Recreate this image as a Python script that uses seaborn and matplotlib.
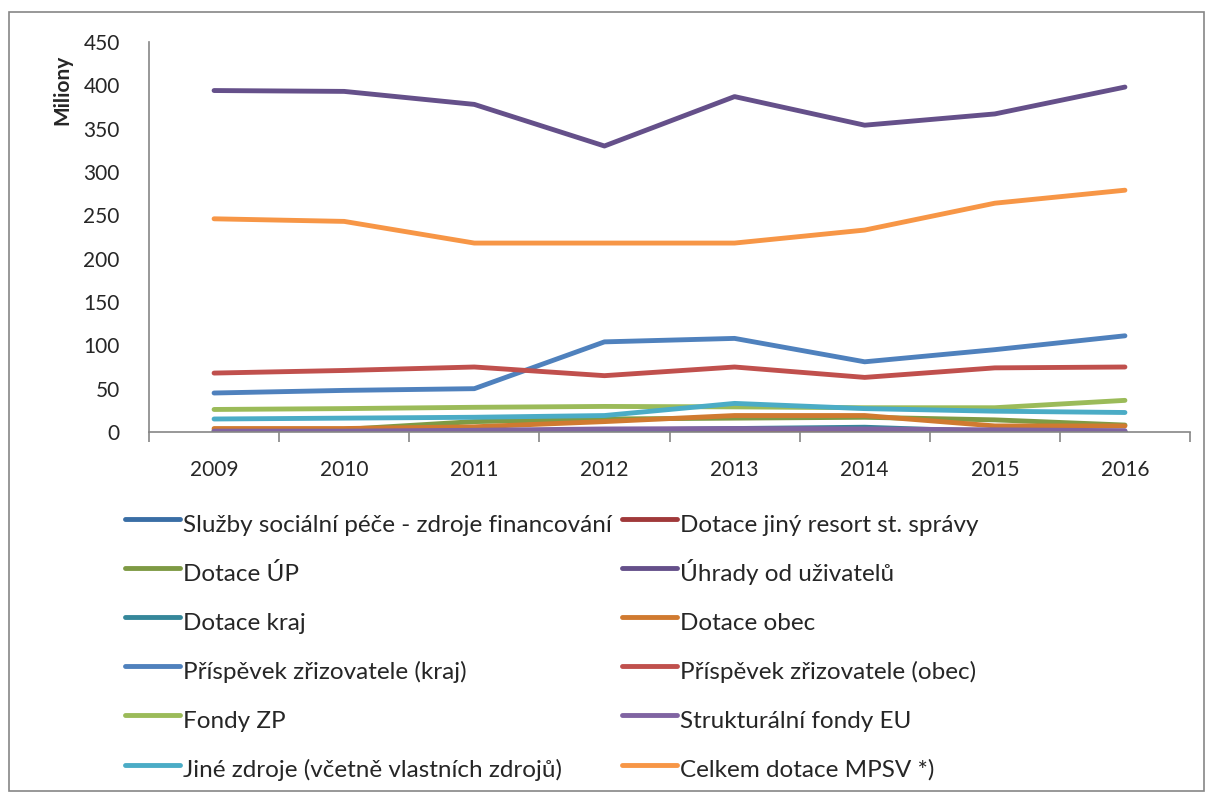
import matplotlib
matplotlib.use("Agg")
import matplotlib.pyplot as plt
from matplotlib.lines import Line2D
from matplotlib.patches import Rectangle
import seaborn as sns
import pandas as pd

years = ["2009", "2010", "2011", "2012", "2013", "2014", "2015", "2016"]

series_names = [
    "Služby sociální péče - zdroje financování",
    "Dotace jiný resort st. správy",
    "Dotace ÚP",
    "Úhrady od uživatelů",
    "Dotace kraj",
    "Dotace obec",
    "Příspěvek zřizovatele (kraj)",
    "Příspěvek zřizovatele (obec)",
    "Fondy ZP",
    "Strukturální fondy EU",
    "Jiné zdroje (včetně vlastních zdrojů)",
    "Celkem dotace MPSV *)",
]

sluzby = [0, 0, 0, 0, 0, 0, 0, 0]
dotace_jiny_resort = [0.5, 0.5, 0.5, 0.5, 0.5, 0.5, 0.5, 0.5]
dotace_up = [2, 3, 12, 15, 16, 17, 14, 8]
uhrady = [394, 393, 378, 330, 387, 354, 367, 398]
dotace_kraj = [0.5, 0.5, 1, 2, 4, 5.5, 0.5, 0.5]
dotace_obec = [4, 4, 6, 12, 19, 19, 7, 7]
prispevek_kraj = [45, 48, 50, 104, 108, 81, 95, 111]
prispevek_obec = [68, 71, 75, 65, 75, 63, 74, 75]
fondy_zp = [26, 27, 28.5, 29.5, 29, 28, 28, 36.5]
strukturalni = [1, 1, 2, 3.5, 4, 3.5, 2.5, 1.5]
jine_zdroje = [15, 16, 17, 19, 33, 27, 24, 22.5]
celkem_mpsv = [246, 243, 218, 218, 218, 233, 264, 279]

values = [sluzby, dotace_jiny_resort, dotace_up, uhrady, dotace_kraj, dotace_obec,
          prispevek_kraj, prispevek_obec, fondy_zp, strukturalni, jine_zdroje, celkem_mpsv]

colors = ["#3A6EA5", "#A0393A", "#7E9A44", "#65508A", "#35879A", "#D07A30",
          "#4F81BD", "#C0504D", "#9BBB59", "#8064A2", "#4BACC6", "#F79646"]

rows = []
for name, vals in zip(series_names, values):
    for y, v in zip(years, vals):
        rows.append({"Rok": y, "Hodnota": v, "Řada": name})
df = pd.DataFrame(rows)

sns.set_style("white")
plt.rcParams["font.family"] = ["Lato", "DejaVu Sans"]

W, H = 1209, 794
fig = plt.figure(figsize=(W / 100, H / 100), dpi=100)
ax = fig.add_axes([149 / W, 1 - 432 / H, (1190 - 149) / W, (432 - 42) / H])

palette = dict(zip(series_names, colors))
sns.lineplot(data=df, x="Rok", y="Hodnota", hue="Řada", hue_order=series_names,
             palette=palette, linewidth=3.5, legend=False, ax=ax, sort=False)
for line in ax.lines:
    line.set_solid_capstyle("round")
    line.set_solid_joinstyle("round")

ax.set_xlim(-0.5, 7.5)
ax.set_ylim(0, 450)
ax.set_yticks(range(0, 451, 50))
ax.set_xlabel("")
ax.set_ylabel("")
ax.set_xticks(range(8))
ax.set_xticklabels(years)
ax.set_xticks([i - 0.5 for i in range(9)], minor=True)
ax.tick_params(axis="x", which="major", length=0, pad=20, labelsize=15)
ax.tick_params(axis="x", which="minor", length=7, width=1.2, color="#868686", direction="out",
               bottom=True)
ax.tick_params(axis="y", which="major", length=7, width=1.2, color="#868686", direction="out",
               pad=14, labelsize=15)
for s in ["top", "right"]:
    ax.spines[s].set_visible(False)
for s in ["left", "bottom"]:
    ax.spines[s].set_color("#868686")
    ax.spines[s].set_linewidth(1.2)

fig.text(62 / W, 1 - 90 / H, "Miliony", rotation=90, ha="center", va="center",
         fontsize=15, fontweight="bold")

# legend: two columns, filled row by row (as in the reference)
col_x = [125, 622]
row_y0, row_dy = 519, 49.1
for i, (name, c) in enumerate(zip(series_names, colors)):
    col, row = i % 2, i // 2
    x0 = col_x[col]
    yl = row_y0 + row * row_dy
    fig.add_artist(Line2D([x0 / W, (x0 + 55) / W], [1 - yl / H, 1 - yl / H],
                          transform=fig.transFigure, color=c, lw=3.5,
                          solid_capstyle="round"))
    fig.text((x0 + 58) / W, 1 - (yl + 12.5) / H, name, ha="left", va="baseline",
             fontsize=17.5)

fig.add_artist(Rectangle((9 / W, 3 / H), 1195 / W, 779 / H, transform=fig.transFigure,
                         fill=False, edgecolor="#868686", linewidth=1.2))

fig.savefig("out.png", dpi=100)
